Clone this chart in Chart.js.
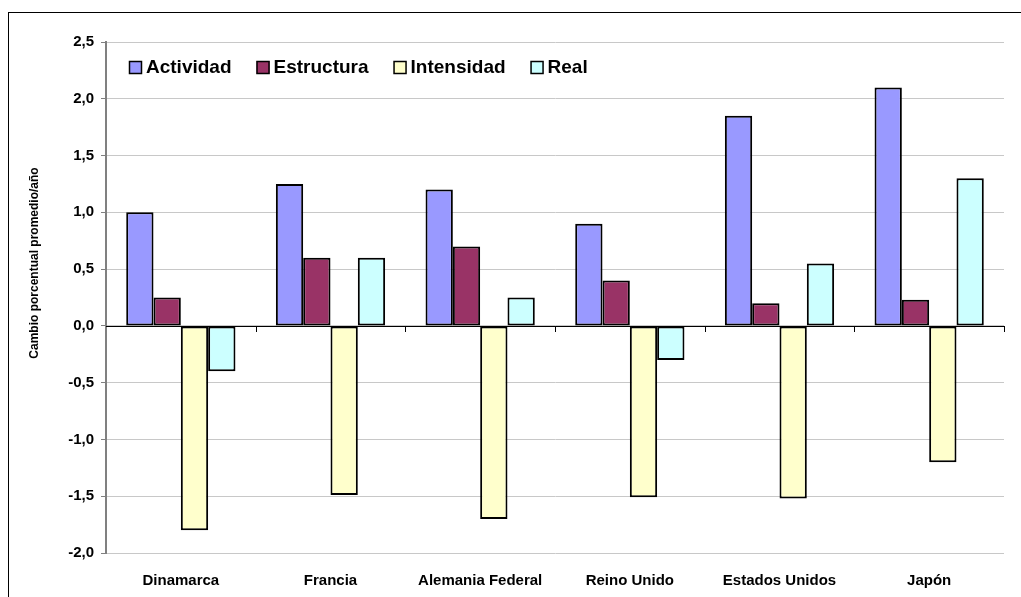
<!DOCTYPE html>
<html>
<head>
<meta charset="utf-8">
<script src="https://cdn.jsdelivr.net/npm/chart.js@4"></script>
<style>
  body { margin: 0; background: #fff; overflow: hidden; }
  #frame { position: absolute; left: 8px; top: 12px; width: 1030px; height: 600px; border: 1px solid #000; }
  #wrap { position: absolute; left: 0; top: 0; width: 1012px; height: 584px; }
</style>
</head>
<body>
<div id="frame"><div id="wrap"><canvas id="myChart"></canvas></div></div>
<script>
const countries = ["Dinamarca", "Francia", "Alemania Federal", "Reino Unido", "Estados Unidos", "Japón"];
const actividad = [1.0, 1.25, 1.2, 0.9, 1.85, 2.1];
const estructura = [0.25, 0.6, 0.7, 0.4, 0.2, 0.23];
const intensidad = [-1.8, -1.49, -1.7, -1.51, -1.52, -1.2];
const real = [-0.4, 0.6, 0.25, -0.3, 0.55, 1.3];
const yTitle = "Cambio porcentual promedio/año";

const font = "Arial, 'Liberation Sans', sans-serif";

function ds(label, values, color) {
    return {
        label: label,
        data: values,
        backgroundColor: color,
        borderColor: "#000",
        borderWidth: 2,
        borderSkipped: false,
    };
}

// zero line plus the category ticks that hang off it
const zeroAxis = {
    id: "zeroAxis",
    afterDatasetsDraw(chart) {
        const ctx = chart.ctx;
        const x = chart.scales.x, y = chart.scales.y;
        const y0 = Math.round(y.getPixelForValue(0));
        ctx.save();
        ctx.strokeStyle = "#000";
        ctx.lineWidth = 1;
        ctx.beginPath();
        ctx.moveTo(x.left, y0 + 0.5);
        ctx.lineTo(x.right, y0 + 0.5);
        const n = countries.length;
        for (let i = 1; i <= n; i++) {
            const px = Math.round(x.left + i * (x.right - x.left) / n) + 0.5;
            ctx.moveTo(px, y0);
            ctx.lineTo(px, y0 + 6);
        }
        ctx.stroke();
        ctx.restore();
    },
};

// horizontal legend inside the plot, top left, and the y title (sits a bit above centre)
const extras = {
    id: "extras",
    afterDraw(chart) {
        const ctx = chart.ctx;
        const area = chart.chartArea;
        let px = area.left + 23;
        const cy = area.top + 25;
        ctx.save();
        ctx.font = "bold 19px " + font;
        ctx.textBaseline = "middle";
        chart.data.datasets.forEach((d) => {
            ctx.fillStyle = d.backgroundColor;
            ctx.fillRect(px, cy - 6, 13, 13);
            ctx.strokeStyle = "#000";
            ctx.lineWidth = 1.5;
            ctx.strokeRect(px + 0.5, cy - 5.5, 12, 12);
            ctx.fillStyle = "#000";
            ctx.fillText(d.label, px + 17, cy + 1);
            px += 17 + ctx.measureText(d.label).width + 25;
        });

        ctx.translate(26, 250);
        ctx.rotate(-Math.PI / 2);
        ctx.font = "bold 12px " + font;
        ctx.textAlign = "center";
        ctx.fillText(yTitle, 0, 0);
        ctx.restore();
    },
};

const config = {
    type: "bar",
    data: {
        labels: countries,
        datasets: [
            ds("Actividad", actividad, "#9999FF"),
            ds("Estructura", estructura, "#993366"),
            ds("Intensidad", intensidad, "#FFFFCC"),
            ds("Real", real, "#CCFFFF"),
        ],
    },
    options: {
        responsive: true,
        maintainAspectRatio: false,
        animation: false,
        categoryPercentage: 0.73,
        barPercentage: 1.0,
        layout: { padding: { left: 0, top: 29, right: 17, bottom: 0 } },
        plugins: {
            tooltip: { enabled: false },
            legend: { display: false },
        },
        scales: {
            x: {
                grid: { display: false },
                border: { display: false },
                ticks: {
                    color: "#000",
                    padding: 11,
                    maxRotation: 0,
                    font: { family: font, size: 15, weight: "bold" },
                },
                afterFit: (s) => { s.height = 44; },
            },
            y: {
                min: -2,
                max: 2.5,
                ticks: {
                    stepSize: 0.5,
                    color: "#000",
                    padding: 7,
                    font: { family: font, size: 15, weight: "bold" },
                    callback: (v) => v.toFixed(1).replace(".", ","),
                },
                grid: {
                    color: "#c8c8c8",
                    tickColor: "#808080",
                    tickLength: 5,
                },
                border: { color: "#808080", width: 2 },
                afterFit: (s) => { s.width = 97; },
            },
        },
    },
    plugins: [zeroAxis, extras],
};

const myChart = new Chart(document.getElementById("myChart"), config);
</script>
</body>
</html>
